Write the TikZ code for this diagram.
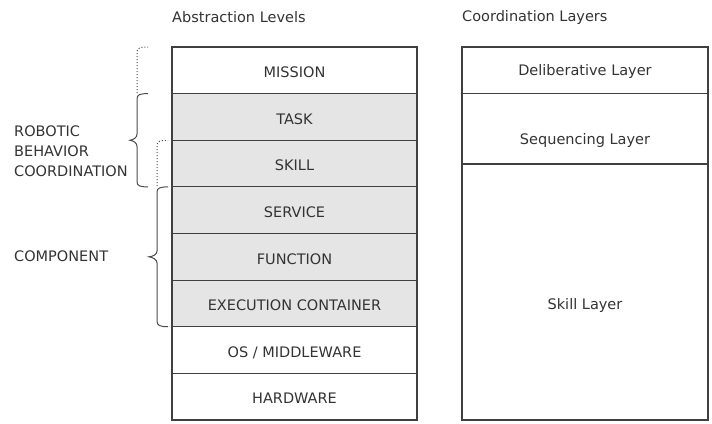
\documentclass[tikz,border=0pt]{standalone}
\usepackage{fontspec}
\setmainfont{DejaVu Sans}
\begin{document}
\begin{tikzpicture}[x=1pt,y=-1pt,
  every node/.style={font=\fontsize{14.5}{20}\selectfont, text=black!80},
  level/.style={draw=black!75, line width=1.1pt, minimum width=245pt, minimum height=46.625pt,
    anchor=north west, inner sep=0pt, outer sep=0pt, text height=14.5pt, text depth=0pt},
  shaded/.style={level, fill=black!10},
  layer/.style={draw=black!75, line width=1.1pt, minimum width=246pt, anchor=north west,
    inner sep=0pt, outer sep=0pt},
  layertext/.style={inner sep=0pt},
  title/.style={anchor=west, inner sep=0pt},
  sidelabel/.style={anchor=west, align=left, inner sep=0pt},
  brace/.style={draw=black!70, line width=1pt},
  bracedot/.style={draw=black!70, line width=1pt, dotted}]
\useasboundingbox (0,0) rectangle (712,423);

% headings
\node[title] (absTitle) at (172,17) {Abstraction Levels};
\node[title] (coordTitle) at (462,17) {Coordination Layers};

% abstraction level stack
\node[level]  (mission) at (172,47)      {MISSION};
\node[shaded] (task)    at (172,93.625)  {TASK};
\node[shaded] (skill)   at (172,140.25)  {SKILL};
\node[shaded] (service) at (172,186.875) {SERVICE};
\node[shaded] (func)    at (172,233.5)   {FUNCTION};
\node[shaded] (exec)    at (172,280.125) {EXECUTION CONTAINER};
\node[level]  (os)      at (172,326.75)  {OS / MIDDLEWARE};
\node[level]  (hw)      at (172,373.375) {HARDWARE};

% coordination layer stack
\node[layer, minimum height=46.5pt] (delib) at (462,47)   {};
\node[layer, minimum height=70.5pt] (seq)   at (462,93.5) {};
\node[layer, minimum height=256pt]  (sklay) at (462,164)  {};
\node[layertext] (delibText) at ([yshift=-1.5pt]delib.center) {Deliberative Layer};
\node[layertext] (seqText)   at ([yshift=-12pt]seq.center)    {Sequencing Layer};
\node[layertext] (skText)    at ([yshift=-13pt]sklay.center)  {Skill Layer};

% side labels
\node[sidelabel] (rbc) at (14,151) {ROBOTIC\\BEHAVIOR\\COORDINATION};
\node[sidelabel] (comp) at (14,256) {COMPONENT};

% brace for robotic behavior coordination (task .. skill), dotted up to mission
\draw[brace] (148,93.625)
  .. controls (140,93.6) and (137,94.5) .. (137,99)
  -- (137,134)
  .. controls (137,137.5) and (134,139.5) .. (130,140.25)
  .. controls (134,141) and (137,143) .. (137,146.5)
  -- (137,181.5)
  .. controls (137,186) and (140,186.9) .. (148,186.875);
\draw[bracedot] (137,93) -- (137,52) .. controls (137,48) and (140,47) .. (148,47);

% brace for component (service .. execution container), dotted up to skill
\draw[brace] (168,186.875)
  .. controls (160,186.9) and (157,188) .. (157,192)
  -- (157,251)
  .. controls (157,254.5) and (153,256.5) .. (149,256.8)
  .. controls (153,257.5) and (157,259.5) .. (157,263)
  -- (157,321)
  .. controls (157,325.5) and (160,326.7) .. (168,326.75);
\draw[bracedot] (157,186) -- (157,145.5) .. controls (157,141.5) and (160,140.3) .. (168,140.25);
\end{tikzpicture}
\end{document}
